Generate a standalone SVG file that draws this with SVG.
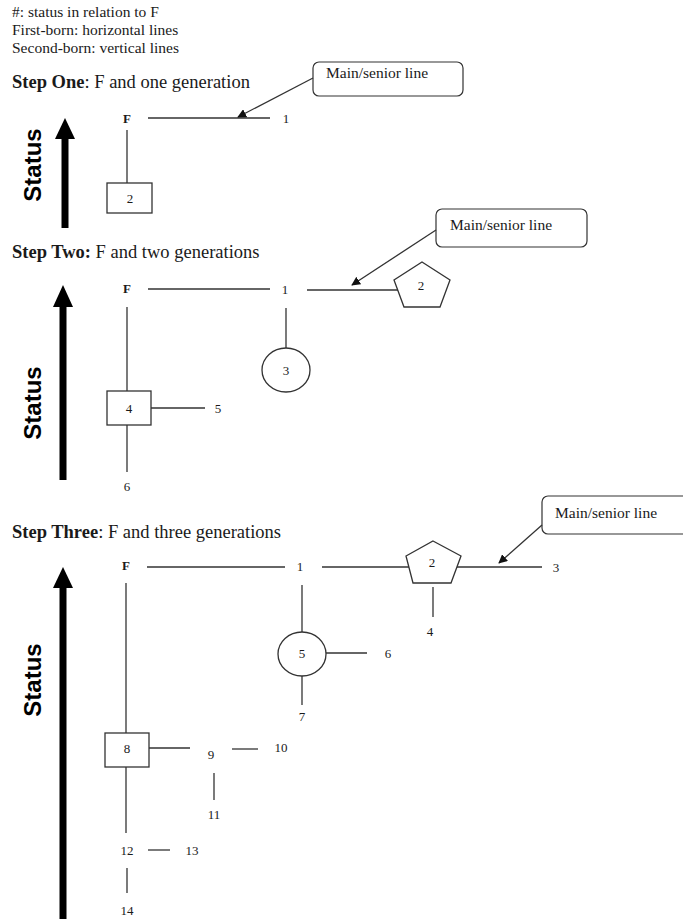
<svg xmlns="http://www.w3.org/2000/svg" width="683" height="919" viewBox="0 0 683 919">
<defs>
<style>
.t{font-family:"Liberation Serif","Times New Roman",serif;fill:#1a1a1a}
.n{font-size:13px;text-anchor:middle}
.h{font-size:18.5px}
.c{font-size:15.5px}
.s{font-family:"Liberation Sans",Arial,sans-serif;font-weight:bold;font-size:24px;fill:#000;text-anchor:middle}
.l{stroke:#333;stroke-width:1.3;fill:none}
.shape{stroke:#333;stroke-width:1.3;fill:#fff}
.big{stroke:#000;stroke-width:7;fill:none}
.call{stroke:#333;stroke-width:1.2;fill:#fff}
.ptr{stroke:#333;stroke-width:1.3;fill:none;marker-end:url(#ah)}
</style>
<marker id="ah" viewBox="0 0 10 10" refX="9" refY="5" markerWidth="9" markerHeight="9" markerUnits="userSpaceOnUse" orient="auto">
<path d="M0,0 L10,5 L0,10 z" fill="#111"/>
</marker>
</defs>
<rect width="683" height="919" fill="#fff"/>

<g id="legend" class="t c">
<text x="12" y="17">#: status in relation to F</text>
<text x="12" y="35">First-born: horizontal lines</text>
<text x="12" y="53">Second-born: vertical lines</text>
</g>

<!-- Step One -->
<g id="step1-title"><text class="t h" x="12" y="88"><tspan font-weight="bold">Step One</tspan>: F and one generation</text></g>
<g id="step1-status">
<line class="big" x1="65" y1="137" x2="65" y2="228"/>
<polygon points="65,118 55,139 75,139" fill="#000"/>
<text class="s" transform="translate(41,165) rotate(-90)">Status</text>
</g>
<g id="s1-F"><text class="t n" x="127" y="123" font-weight="bold">F</text></g>
<g id="s1-1"><text class="t n" x="286" y="123">1</text></g>
<g id="s1-2"><rect class="shape" x="107" y="183" width="45" height="30"/><text class="t n" x="130" y="203">2</text></g>
<g id="s1-callout"><rect class="call" x="313" y="62" width="150" height="34" rx="6"/><text class="t c" x="326" y="78">Main/senior line</text></g>
<g id="s1-connectors">
<line class="l" x1="148" y1="118" x2="270" y2="118"/>
<line class="l" x1="127" y1="130" x2="127" y2="183"/>
<line class="ptr" x1="313" y1="78" x2="238" y2="117"/>
</g>

<!-- Step Two -->
<g id="step2-title"><text class="t h" x="12" y="258"><tspan font-weight="bold">Step Two:</tspan> F and two generations</text></g>
<g id="step2-status">
<line class="big" x1="63" y1="305" x2="63" y2="480"/>
<polygon points="63,285 53,307 73,307" fill="#000"/>
<text class="s" transform="translate(41,403) rotate(-90)">Status</text>
</g>
<g id="s2-F"><text class="t n" x="127" y="293" font-weight="bold">F</text></g>
<g id="s2-1"><text class="t n" x="285" y="294">1</text></g>
<g id="s2-2"><polygon class="shape" points="422,262 450,280 440,307 404,307 394,280"/><text class="t n" x="421" y="290">2</text></g>
<g id="s2-3"><ellipse class="shape" cx="286" cy="370" rx="24" ry="22"/><text class="t n" x="286" y="375">3</text></g>
<g id="s2-4"><rect class="shape" x="107" y="391" width="44" height="34"/><text class="t n" x="129" y="413">4</text></g>
<g id="s2-5"><text class="t n" x="218" y="413">5</text></g>
<g id="s2-6"><text class="t n" x="127" y="491">6</text></g>
<g id="s2-callout"><rect class="call" x="436" y="209" width="151" height="38" rx="6"/><text class="t c" x="450" y="230">Main/senior line</text></g>
<g id="s2-connectors">
<line class="l" x1="148" y1="289" x2="270" y2="289"/>
<line class="l" x1="307" y1="290" x2="398" y2="290"/>
<line class="l" x1="286" y1="308" x2="286" y2="348"/>
<line class="l" x1="127" y1="307" x2="127" y2="391"/>
<line class="l" x1="151" y1="408" x2="205" y2="408"/>
<line class="l" x1="127" y1="425" x2="127" y2="472"/>
<line class="ptr" x1="436" y1="230" x2="352" y2="285"/>
</g>

<!-- Step Three -->
<g id="step3-title"><text class="t h" x="12" y="538"><tspan font-weight="bold">Step Three</tspan>: F and three generations</text></g>
<g id="step3-status">
<line class="big" x1="63" y1="585" x2="63" y2="919"/>
<polygon points="63,567 53,588 73,588" fill="#000"/>
<text class="s" transform="translate(41,680) rotate(-90)">Status</text>
</g>
<g id="s3-F"><text class="t n" x="126" y="570" font-weight="bold">F</text></g>
<g id="s3-1"><text class="t n" x="300" y="571">1</text></g>
<g id="s3-2"><polygon class="shape" points="433,541 461,556 451,583 413,583 406,556"/><text class="t n" x="432" y="567">2</text></g>
<g id="s3-3"><text class="t n" x="556" y="572">3</text></g>
<g id="s3-4"><text class="t n" x="430" y="636">4</text></g>
<g id="s3-5"><ellipse class="shape" cx="302" cy="654" rx="24" ry="22"/><text class="t n" x="302" y="658">5</text></g>
<g id="s3-6"><text class="t n" x="388" y="658">6</text></g>
<g id="s3-7"><text class="t n" x="302" y="721">7</text></g>
<g id="s3-8"><rect class="shape" x="105" y="733" width="44" height="34"/><text class="t n" x="127" y="753">8</text></g>
<g id="s3-9"><text class="t n" x="211" y="759">9</text></g>
<g id="s3-10"><text class="t n" x="281" y="752">10</text></g>
<g id="s3-11"><text class="t n" x="214" y="819">11</text></g>
<g id="s3-12"><text class="t n" x="127" y="855">12</text></g>
<g id="s3-13"><text class="t n" x="192" y="855">13</text></g>
<g id="s3-14"><text class="t n" x="127" y="915">14</text></g>
<g id="s3-callout"><rect class="call" x="542" y="496" width="150" height="38" rx="6"/><text class="t c" x="555" y="518">Main/senior line</text></g>
<g id="s3-connectors">
<line class="l" x1="147" y1="567" x2="285" y2="567"/>
<line class="l" x1="322" y1="567" x2="409" y2="567"/>
<line class="l" x1="457" y1="567" x2="542" y2="567"/>
<line class="l" x1="433" y1="587" x2="433" y2="617"/>
<line class="l" x1="302" y1="585" x2="302" y2="632"/>
<line class="l" x1="326" y1="653" x2="367" y2="653"/>
<line class="l" x1="302" y1="676" x2="302" y2="705"/>
<line class="l" x1="126" y1="583" x2="126" y2="733"/>
<line class="l" x1="149" y1="748" x2="190" y2="748"/>
<line class="l" x1="232" y1="749" x2="258" y2="749"/>
<line class="l" x1="214" y1="773" x2="214" y2="800"/>
<line class="l" x1="126" y1="767" x2="126" y2="833"/>
<line class="l" x1="148" y1="850" x2="170" y2="850"/>
<line class="l" x1="127" y1="868" x2="127" y2="893"/>
<line class="ptr" x1="542" y1="525" x2="499" y2="563"/>
</g>
</svg>
